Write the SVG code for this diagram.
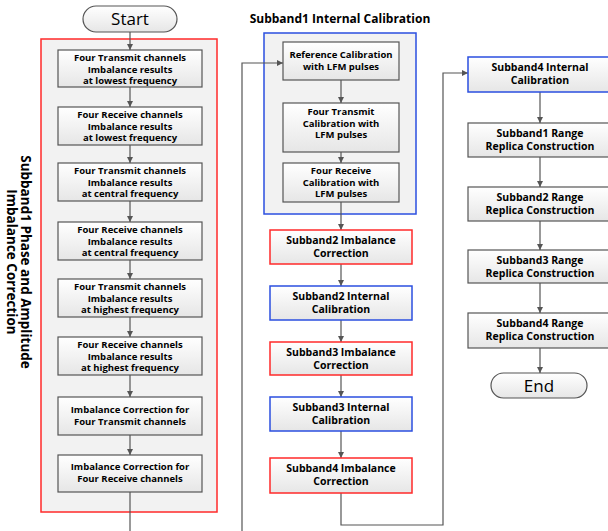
<svg xmlns="http://www.w3.org/2000/svg" width="608" height="531" viewBox="0 0 608 531">
  <defs>
    <linearGradient id="boxFill" x1="0" y1="0" x2="0" y2="1">
      <stop offset="0" stop-color="#ffffff"/>
      <stop offset="1" stop-color="#e6e6e6"/>
    </linearGradient>
    <marker id="arrow" viewBox="0 0 8 8" refX="8" refY="4" markerWidth="6" markerHeight="6" orient="auto" markerUnits="userSpaceOnUse">
      <path d="M0,0 L8,4 L0,8 z" fill="#555"/>
    </marker>
    <style>
      .cont { fill: #f2f2f2; stroke-width: 1.5; }
      .box { fill: url(#boxFill); stroke: #555; stroke-width: 1.2; }
      .red { stroke: #ff2a2a; stroke-width: 1.5; }
      .blue { stroke: #2b4fe0; stroke-width: 1.5; }
      .pill { fill: url(#boxFill); stroke: #555; stroke-width: 1.2; }
      text { font-family: "Open Sans", "Noto Sans", "Liberation Sans", sans-serif; fill: #000; text-anchor: middle; }
      .s { font-size: 9.5px; font-weight: bold; }
      .m { font-size: 10.5px; font-weight: bold; }
      .t { font-size: 12px; font-weight: bold; }
      .v { font-size: 13.5px; font-weight: bold; }
      .term { font-size: 17px; }
      .conn path { fill: none; stroke: #555; stroke-width: 1.2; }
    </style>
  </defs>

  <!-- containers -->
  <rect id="group-subband1-imbalance" class="cont red" x="41" y="39" width="176" height="473"/>
  <g id="group-subband1-calibration">
    <rect class="cont blue" x="264" y="33" width="152" height="181"/>
    <text class="t" x="340" y="23">Subband1 Internal Calibration</text>
  </g>
  <text class="v" transform="translate(21,262) rotate(90)">Subband1 Phase and Amplitude</text>
  <text class="v" transform="translate(7,262) rotate(90)">Imbalance Correction</text>

  <!-- connectors -->
  <g class="conn">
    <path d="M130,32 V50" marker-end="url(#arrow)"/>
    <path d="M130,87 V107" marker-end="url(#arrow)"/>
    <path d="M130,145 V163" marker-end="url(#arrow)"/>
    <path d="M130,201 V222" marker-end="url(#arrow)"/>
    <path d="M130,260 V279" marker-end="url(#arrow)"/>
    <path d="M130,317 V337" marker-end="url(#arrow)"/>
    <path d="M130,375 V397" marker-end="url(#arrow)"/>
    <path d="M130,435 V455" marker-end="url(#arrow)"/>
    <path d="M130,492 V531"/>
    <path d="M242,531 V63 H283" marker-end="url(#arrow)"/>
    <path d="M341,80 V103" marker-end="url(#arrow)"/>
    <path d="M341,152 V163" marker-end="url(#arrow)"/>
    <path d="M341,202 V230" marker-end="url(#arrow)"/>
    <path d="M341,264 V286" marker-end="url(#arrow)"/>
    <path d="M341,320 V342" marker-end="url(#arrow)"/>
    <path d="M341,375 V397" marker-end="url(#arrow)"/>
    <path d="M341,431 V458" marker-end="url(#arrow)"/>
    <path d="M341,493 V525 H443 V73 H468" marker-end="url(#arrow)"/>
    <path d="M540,92 V123" marker-end="url(#arrow)"/>
    <path d="M540,157 V187" marker-end="url(#arrow)"/>
    <path d="M540,221 V250" marker-end="url(#arrow)"/>
    <path d="M540,283 V313" marker-end="url(#arrow)"/>
    <path d="M540,348 V373" marker-end="url(#arrow)"/>
  </g>

  <!-- terminals -->
  <g id="start">
    <rect class="pill" x="83" y="6" width="94" height="26" rx="13"/>
    <text class="term" x="130" y="25">Start</text>
  </g>
  <g id="end">
    <rect class="pill" x="491" y="373" width="96" height="25" rx="12.5"/>
    <text class="term" x="539" y="392">End</text>
  </g>

  <!-- left column -->
  <g id="tx-lowest">
    <rect class="box" x="58" y="50" width="144" height="37"/>
    <text class="s" x="130" y="61">Four Transmit channels<tspan x="130" dy="11.7">Imbalance results</tspan><tspan x="130" dy="11.7">at lowest frequency</tspan></text>
  </g>
  <g id="rx-lowest">
    <rect class="box" x="58" y="107" width="144" height="38"/>
    <text class="s" x="130" y="118">Four Receive channels<tspan x="130" dy="11.7">Imbalance results</tspan><tspan x="130" dy="11.7">at lowest frequency</tspan></text>
  </g>
  <g id="tx-central">
    <rect class="box" x="58" y="163" width="144" height="38"/>
    <text class="s" x="130" y="174">Four Transmit channels<tspan x="130" dy="11.7">Imbalance results</tspan><tspan x="130" dy="11.7">at central frequency</tspan></text>
  </g>
  <g id="rx-central">
    <rect class="box" x="58" y="222" width="144" height="38"/>
    <text class="s" x="130" y="233">Four Receive channels<tspan x="130" dy="11.7">Imbalance results</tspan><tspan x="130" dy="11.7">at central frequency</tspan></text>
  </g>
  <g id="tx-highest">
    <rect class="box" x="58" y="279" width="144" height="38"/>
    <text class="s" x="130" y="290">Four Transmit channels<tspan x="130" dy="11.7">Imbalance results</tspan><tspan x="130" dy="11.7">at highest frequency</tspan></text>
  </g>
  <g id="rx-highest">
    <rect class="box" x="58" y="337" width="144" height="38"/>
    <text class="s" x="130" y="348">Four Receive channels<tspan x="130" dy="11.7">Imbalance results</tspan><tspan x="130" dy="11.7">at highest frequency</tspan></text>
  </g>
  <g id="tx-correction">
    <rect class="box" x="58" y="397" width="144" height="38"/>
    <text class="s" x="130" y="413">Imbalance Correction for<tspan x="130" dy="11.7">Four Transmit channels</tspan></text>
  </g>
  <g id="rx-correction">
    <rect class="box" x="58" y="455" width="144" height="37"/>
    <text class="s" x="130" y="470">Imbalance Correction for<tspan x="130" dy="11.7">Four Receive channels</tspan></text>
  </g>

  <!-- middle column -->
  <g id="ref-calibration">
    <rect class="box" x="283" y="42" width="116" height="38"/>
    <text class="s" x="341" y="58">Reference Calibration<tspan x="341" dy="11.7">with LFM pulses</tspan></text>
  </g>
  <g id="tx-calibration">
    <rect class="box" x="283" y="103" width="116" height="49"/>
    <text class="s" x="341" y="115">Four Transmit<tspan x="341" dy="11.7">Calibration with</tspan><tspan x="341" dy="11.7">LFM pulses</tspan></text>
  </g>
  <g id="rx-calibration">
    <rect class="box" x="283" y="163" width="116" height="39"/>
    <text class="s" x="341" y="174">Four Receive<tspan x="341" dy="11.7">Calibration with</tspan><tspan x="341" dy="11.7">LFM pulses</tspan></text>
  </g>
  <g id="sb2-imbalance">
    <rect class="box red" x="270" y="230" width="142" height="34"/>
    <text class="m" x="341" y="244">Subband2 Imbalance<tspan x="341" dy="12.8">Correction</tspan></text>
  </g>
  <g id="sb2-calibration">
    <rect class="box blue" x="270" y="286" width="142" height="34"/>
    <text class="m" x="341" y="300">Subband2 Internal<tspan x="341" dy="12.8">Calibration</tspan></text>
  </g>
  <g id="sb3-imbalance">
    <rect class="box red" x="270" y="342" width="142" height="33"/>
    <text class="m" x="341" y="356">Subband3 Imbalance<tspan x="341" dy="12.8">Correction</tspan></text>
  </g>
  <g id="sb3-calibration">
    <rect class="box blue" x="270" y="397" width="142" height="34"/>
    <text class="m" x="341" y="411">Subband3  Internal<tspan x="341" dy="12.8">Calibration</tspan></text>
  </g>
  <g id="sb4-imbalance">
    <rect class="box red" x="270" y="458" width="142" height="35"/>
    <text class="m" x="341" y="472">Subband4 Imbalance<tspan x="341" dy="12.8">Correction</tspan></text>
  </g>

  <!-- right column -->
  <g id="sb4-calibration">
    <rect class="box blue" x="468" y="57" width="144" height="35"/>
    <text class="m" x="540" y="71">Subband4  Internal<tspan x="540" dy="12.8">Calibration</tspan></text>
  </g>
  <g id="sb1-replica">
    <rect class="box" x="468" y="123" width="144" height="34"/>
    <text class="m" x="540" y="137">Subband1 Range<tspan x="540" dy="12.8">Replica Construction</tspan></text>
  </g>
  <g id="sb2-replica">
    <rect class="box" x="468" y="187" width="144" height="34"/>
    <text class="m" x="540" y="201">Subband2 Range<tspan x="540" dy="12.8">Replica Construction</tspan></text>
  </g>
  <g id="sb3-replica">
    <rect class="box" x="468" y="250" width="144" height="33"/>
    <text class="m" x="540" y="264">Subband3 Range<tspan x="540" dy="12.8">Replica Construction</tspan></text>
  </g>
  <g id="sb4-replica">
    <rect class="box" x="468" y="313" width="144" height="35"/>
    <text class="m" x="540" y="327">Subband4 Range<tspan x="540" dy="12.8">Replica Construction</tspan></text>
  </g>
</svg>
